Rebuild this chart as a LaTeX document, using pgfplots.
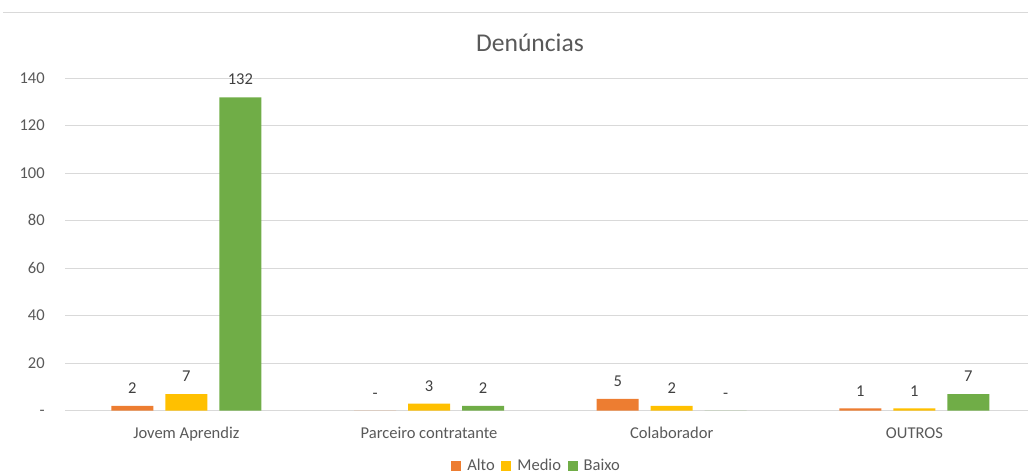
\documentclass[border=0pt]{standalone}
\usepackage{pgfplots}
\pgfplotsset{compat=1.18}
\usepackage{fontspec}
\setmainfont{Carlito}
\definecolor{cAlto}{HTML}{ED7D31}
\definecolor{cMedio}{HTML}{FFC000}
\definecolor{cBaixo}{HTML}{70AD47}
\definecolor{gridc}{HTML}{D9D9D9}
\definecolor{txt}{HTML}{595959}
\definecolor{lab}{HTML}{404040}
\newcommand{\fs}{\fontsize{12.4}{15}\selectfont}
\begin{document}
\begin{tikzpicture}
\useasboundingbox (0,0) rectangle (771pt,355.5pt);
\draw[gridc, line width=0.75pt] (2.25pt,346.3pt) -- (771pt,346.3pt);
\node[font=\fontsize{19.2}{23}\selectfont, text=txt] at (397.5pt,323.6pt) {Denúncias};
\begin{axis}[
  at={(48.75pt,47.5pt)}, anchor=south west,
  scale only axis, width=722.25pt, height=249.3pt,
  xmin=-0.5, xmax=3.468, ymin=0, ymax=140,
  ytick={0,20,...,140},
  yticklabels={{-\hspace{5.25pt}},20,40,60,80,100,120,140},
  xtick={0,1,2,3},
  xticklabels={Jovem Aprendiz,Parceiro contratante,Colaborador,OUTROS},
  axis line style={draw=none},
  major tick length=0pt, tick style={draw=none},
  ymajorgrids, grid style={gridc, line width=0.75pt},
  yticklabel style={font=\fs, text=txt, anchor=base east, inner sep=0pt, xshift=-15pt, yshift=-3.9pt},
  xticklabel style={font=\fs, text=txt, anchor=base, inner sep=0pt, yshift=-20.7pt},
  ybar, bar width=31.5pt,
  nodes near coords,
  point meta=explicit symbolic,
  every node near coord/.append style={font=\fs, text=lab, anchor=south, inner sep=0pt, text height=0.65em, text depth=0pt, yshift=9pt},
  legend columns=3,
  legend style={at={(0.490,-0.166)}, anchor=center, draw=none, fill=none, font=\fs, text=txt,
    /tikz/every even column/.append style={column sep=3pt},
    nodes={inner sep=2pt}},
  legend image code/.code={\fill[#1] (0pt,-3.75pt) rectangle (7.5pt,3.75pt);},
]
\addplot[fill=cAlto, draw=none, bar shift=-40.5pt] table[meta=l] {
x y l
0 2 2
1 0 -
2 5 5
3 1 1
};
\addplot[fill=cMedio, draw=none, bar shift=0pt] table[meta=l] {
x y l
0 7 7
1 3 3
2 2 2
3 1 1
};
\addplot[fill=cBaixo, draw=none, bar shift=40.5pt] table[meta=l] {
x y l
0 132 132
1 2 2
2 0 -
3 7 7
};
\legend{\hspace{2.5pt}Alto,\hspace{2.5pt}Medio,\hspace{2.5pt}Baixo}
\end{axis}
\end{tikzpicture}
\end{document}
